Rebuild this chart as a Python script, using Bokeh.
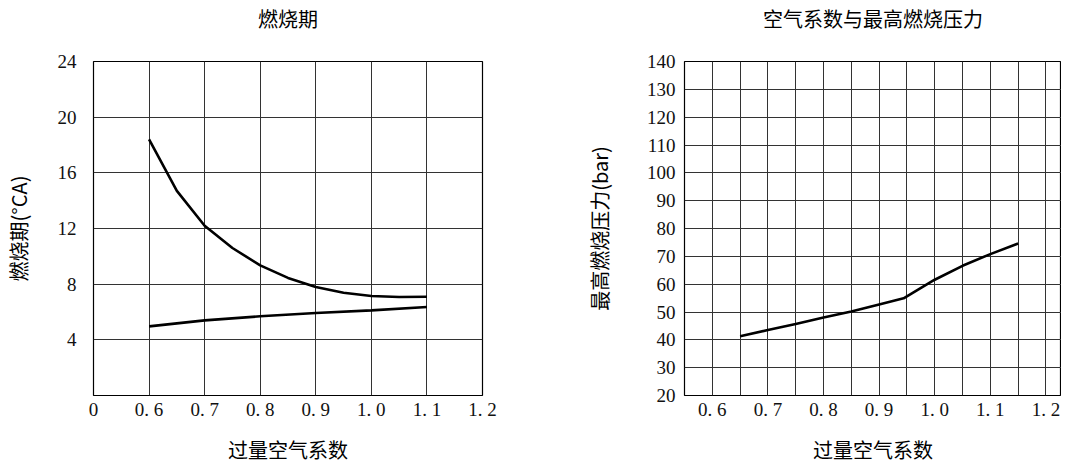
from bokeh.plotting import figure
from bokeh.layouts import row
from bokeh.models import FixedTicker, Range1d, LinearAxis
from bokeh.embed import file_html
from bokeh.resources import INLINE

# ---------------- data ----------------
left_title = "燃烧期"
left_ylabel = "燃烧期(°CA)"
xlabel = "过量空气系数"
right_title = "空气系数与最高燃烧压力"
right_ylabel = "最高燃烧压力(bar)"

# left chart
lam_upper = [0.6, 0.65, 0.7, 0.75, 0.8, 0.85, 0.9, 0.95, 1.0, 1.05, 1.1]
val_upper = [18.4, 14.7, 12.2, 10.6, 9.35, 8.45, 7.8, 7.38, 7.15, 7.08, 7.1]
lam_lower = [0.6, 0.7, 0.8, 0.9, 1.0, 1.1]
val_lower = [4.97, 5.4, 5.69, 5.93, 6.12, 6.36]

left_xticks = [0.5, 0.6, 0.7, 0.8, 0.9, 1.0, 1.1, 1.2]
left_xlabels = ["0", "0. 6", "0. 7", "0. 8", "0. 9", "1. 0", "1. 1", "1. 2"]
left_yticks = [4, 8, 12, 16, 20, 24]

# right chart
lam_right = [0.65, 0.7, 0.75, 0.8, 0.85, 0.9, 0.944, 1.0, 1.05, 1.1, 1.15]
val_right = [41.3, 43.5, 45.7, 48.0, 50.2, 52.7, 54.9, 61.6, 66.6, 70.8, 74.6]

right_xticks = [0.6, 0.7, 0.8, 0.9, 1.0, 1.1, 1.2]
right_xlabels = ["0. 6", "0. 7", "0. 8", "0. 9", "1. 0", "1. 1", "1. 2"]
right_xminor = [0.55, 0.65, 0.75, 0.85, 0.95, 1.05, 1.15]
right_yticks = [20, 30, 40, 50, 60, 70, 80, 90, 100, 110, 120, 130, 140]

TICK_FONT = "Liberation Serif"
CJK_FONT = "Noto Sans CJK SC"
GRID = "#333333"
FRAME_H = 334


def style(p, ystandoff, ylab_standoff):
    p.outline_line_color = "black"
    p.outline_line_width = 1.2
    p.background_fill_color = "white"
    p.border_fill_color = "white"
    for ax in (p.xaxis[0], p.yaxis[0]):
        ax.axis_line_color = None
        ax.major_tick_line_color = None
        ax.minor_tick_line_color = None
        ax.major_label_text_font = TICK_FONT
        ax.major_label_text_font_size = "19px"
        ax.major_label_text_color = "#111111"
        ax.axis_label_text_font = CJK_FONT
        ax.axis_label_text_font_size = "20px"
        ax.axis_label_text_font_style = "normal"
        ax.axis_label_text_color = "black"
    p.xaxis.major_label_standoff = -3
    p.xaxis.axis_label_standoff = 12
    p.yaxis.major_label_standoff = ystandoff
    p.yaxis.axis_label_standoff = ylab_standoff
    p.xgrid.grid_line_color = GRID
    p.ygrid.grid_line_color = GRID
    p.xgrid.grid_line_width = 1
    p.ygrid.grid_line_width = 1


def add_title(p, text):
    ax = LinearAxis(axis_label=text, ticker=FixedTicker(ticks=[]))
    ax.axis_line_color = None
    ax.major_tick_line_color = None
    ax.minor_tick_line_color = None
    ax.major_tick_out = 0
    ax.minor_tick_out = 0
    ax.major_label_standoff = 0
    ax.major_label_text_font_size = "0px"
    ax.axis_label_text_font = CJK_FONT
    ax.axis_label_text_font_size = "20px"
    ax.axis_label_text_font_style = "normal"
    ax.axis_label_text_color = "black"
    ax.axis_label_standoff = 29
    p.add_layout(ax, "above")


# ---------------- left figure ----------------
p1 = figure(frame_width=389, frame_height=FRAME_H, x_range=Range1d(0.5, 1.2), y_range=Range1d(0, 24),
            output_backend="svg", toolbar_location=None,
            min_border_left=85, min_border_right=41, min_border_top=54, min_border_bottom=60,
            x_axis_label=xlabel, y_axis_label=left_ylabel)
p1.xaxis.ticker = FixedTicker(ticks=left_xticks)
p1.xaxis.major_label_overrides = {t: s for t, s in zip(left_xticks, left_xlabels)}
p1.yaxis.ticker = FixedTicker(ticks=left_yticks)
style(p1, 11, 22)
add_title(p1, left_title)
p1.line(lam_upper, val_upper, line_color="black", line_width=2.6)
p1.line(lam_lower, val_lower, line_color="black", line_width=2.6)

# ---------------- right figure ----------------
p2 = figure(frame_width=377, frame_height=FRAME_H, x_range=Range1d(0.55, 1.228), y_range=Range1d(20, 140),
            output_backend="svg", toolbar_location=None,
            min_border_left=161, min_border_right=0, min_border_top=54, min_border_bottom=60,
            x_axis_label=xlabel, y_axis_label=right_ylabel)
p2.xaxis.ticker = FixedTicker(ticks=right_xticks, minor_ticks=right_xminor)
p2.xaxis.major_label_overrides = {t: s for t, s in zip(right_xticks, right_xlabels)}
p2.yaxis.ticker = FixedTicker(ticks=right_yticks)
style(p2, 3, 30)
add_title(p2, right_title)
p2.xgrid.minor_grid_line_color = GRID
p2.xgrid.minor_grid_line_width = 1
p2.line(lam_right, val_right, line_color="black", line_width=2.6)

layout = row(p1, p2)
open("out.html", "w").write(file_html(layout, INLINE))
